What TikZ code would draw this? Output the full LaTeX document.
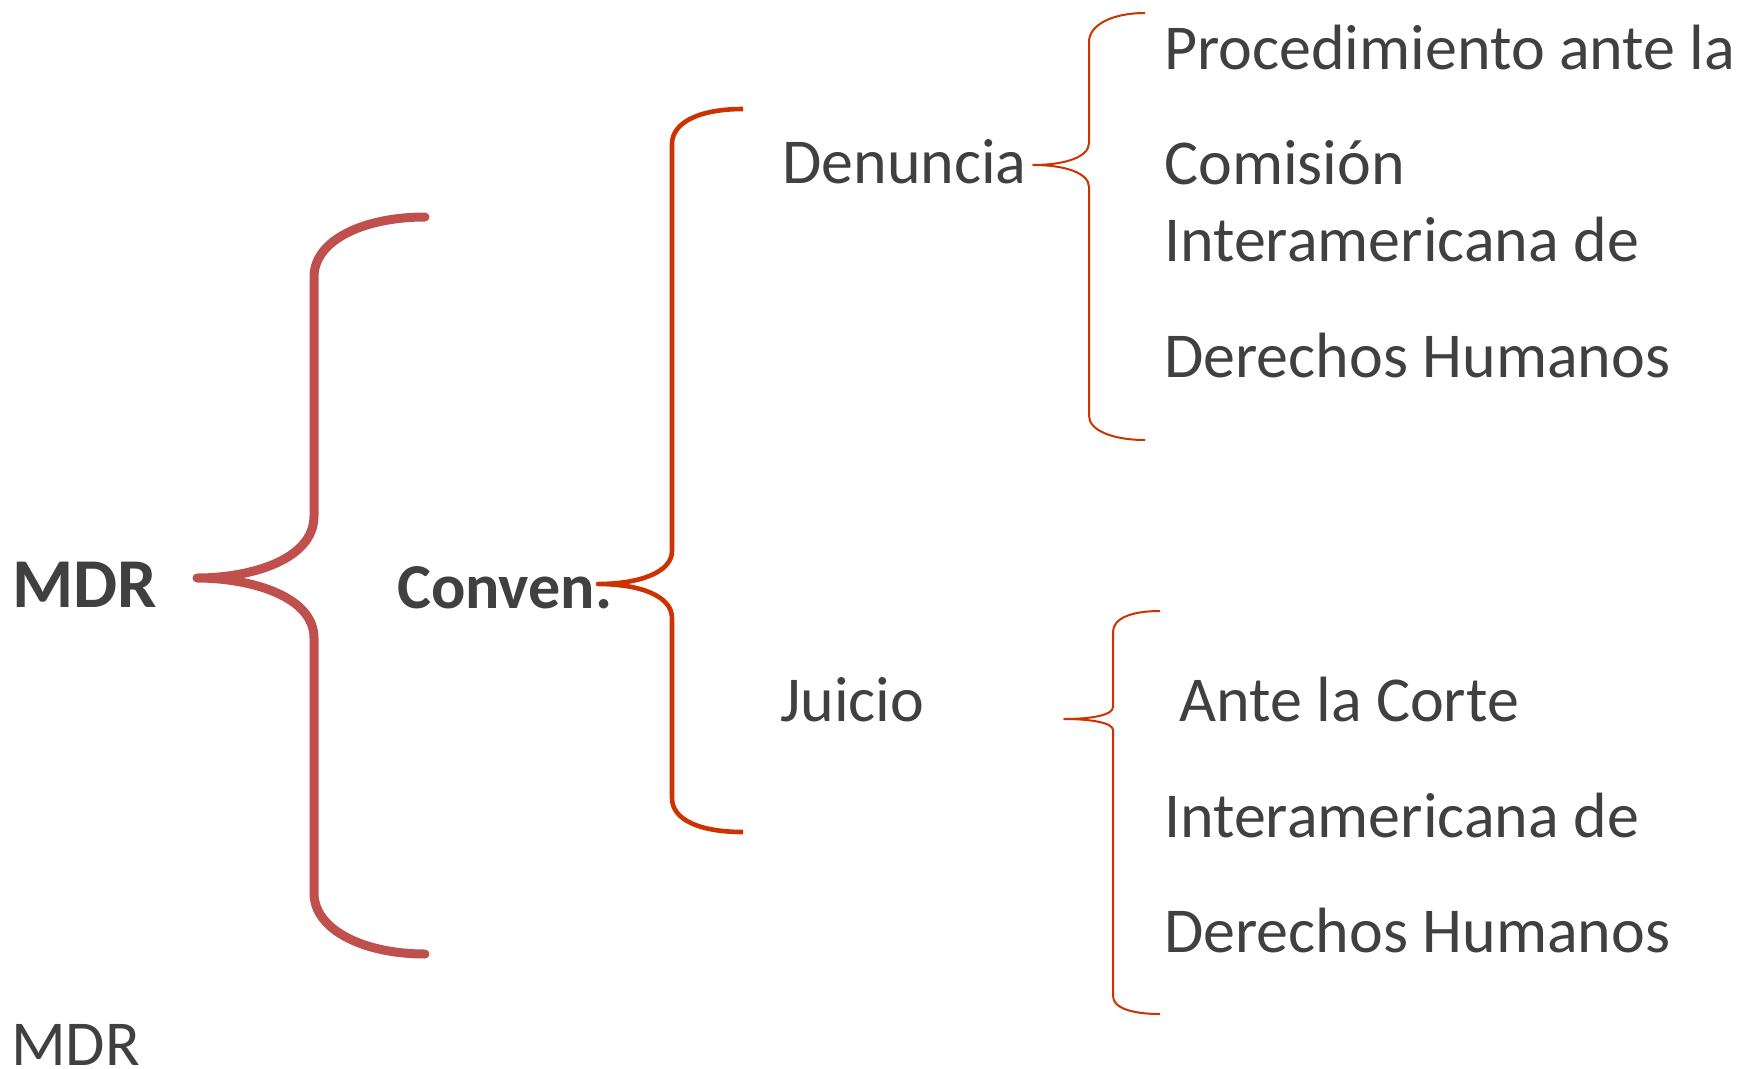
\documentclass[tikz,border=0pt]{standalone}
\usepackage{fontspec}
\setmainfont{Carlito}
\definecolor{txt}{HTML}{404040}
\definecolor{braceA}{HTML}{C0504D}
\definecolor{braceB}{HTML}{CC3300}
\begin{document}
\begin{tikzpicture}[x=1pt,y=-1pt,
  lbl/.style={anchor=base west,inner sep=0pt,text=txt,font=\fontsize{64}{64}\selectfont},
  lblb/.style={lbl,font=\fontsize{64}{64}\selectfont\bfseries},
  bigbrace/.style={draw=braceA,line width=9pt,line cap=round,line join=round},
  midbrace/.style={draw=braceB,line width=4.6pt,line join=round},
  thinbrace/.style={draw=braceB,line width=2pt,line join=round}]
\useasboundingbox (0,0) rectangle (1739,1068);

% texts
\node[lblb,font=\fontsize{70}{70}\selectfont\bfseries] (mdr) at (12,607) {MDR};
\node[lblb] (conv) at (397,608) {Conven.};
\node[lbl] (den) at (782,183) {Denuncia};
\node[lbl] (jui) at (780,721) {Juicio};
\node[lbl] (p1) at (1164,69) {Procedimiento ante la};
\node[lbl] (p2) at (1164,184) {Comisión};
\node[lbl] (p3) at (1164,261) {Interamericana de};
\node[lbl] (p4) at (1164,377) {Derechos Humanos};
\node[lbl] (c1) at (1179,721) {Ante la Corte};
\node[lbl] (c2) at (1164,837) {Interamericana de};
\node[lbl] (c3) at (1164,952) {Derechos Humanos};
\node[lbl,text depth=0pt] (mdrb) at (11,1065) {MDR};

% brace end points
\coordinate (b1tip) at (197,578);
\coordinate (b1top) at (425,217);
\coordinate (b1bot) at (425,954);
\coordinate (b2tip) at (598,584);
\coordinate (b2top) at (743,109);
\coordinate (b2bot) at (743,832);
\coordinate (b3tip) at (1033,165);
\coordinate (b3top) at (1145,13);
\coordinate (b3bot) at (1145,440);
\coordinate (b4tip) at (1064,719);
\coordinate (b4top) at (1160,611);
\coordinate (b4bot) at (1160,1014);

% braces
\draw[bigbrace] (b1top) .. controls (364,217) and (314,240) .. (314,277) -- (314,516)
  .. controls (314,560) and (250,578) .. (b1tip)
  .. controls (250,578) and (314,596) .. (314,638) -- (314,893)
  .. controls (314,930) and (364,954) .. (b1bot);
\draw[midbrace] (b2top) .. controls (700,109) and (672,122) .. (672,144) -- (672,551)
  .. controls (672,572) and (640,584) .. (b2tip)
  .. controls (640,584) and (672,596) .. (672,618) -- (672,798)
  .. controls (672,820) and (700,832) .. (b2bot);
\draw[thinbrace] (b3top) .. controls (1112,13) and (1089,25) .. (1089,42) -- (1089,143)
  .. controls (1089,157) and (1065,165) .. (b3tip)
  .. controls (1065,165) and (1089,173) .. (1089,187) -- (1089,416)
  .. controls (1089,430) and (1112,440) .. (b3bot);
\draw[thinbrace] (b4top) .. controls (1132,611) and (1113,618) .. (1113,632) -- (1113,707)
  .. controls (1113,715) and (1092,719) .. (b4tip)
  .. controls (1092,719) and (1113,723) .. (1113,730) -- (1113,996)
  .. controls (1113,1008) and (1132,1014) .. (b4bot);
\end{tikzpicture}
\end{document}
